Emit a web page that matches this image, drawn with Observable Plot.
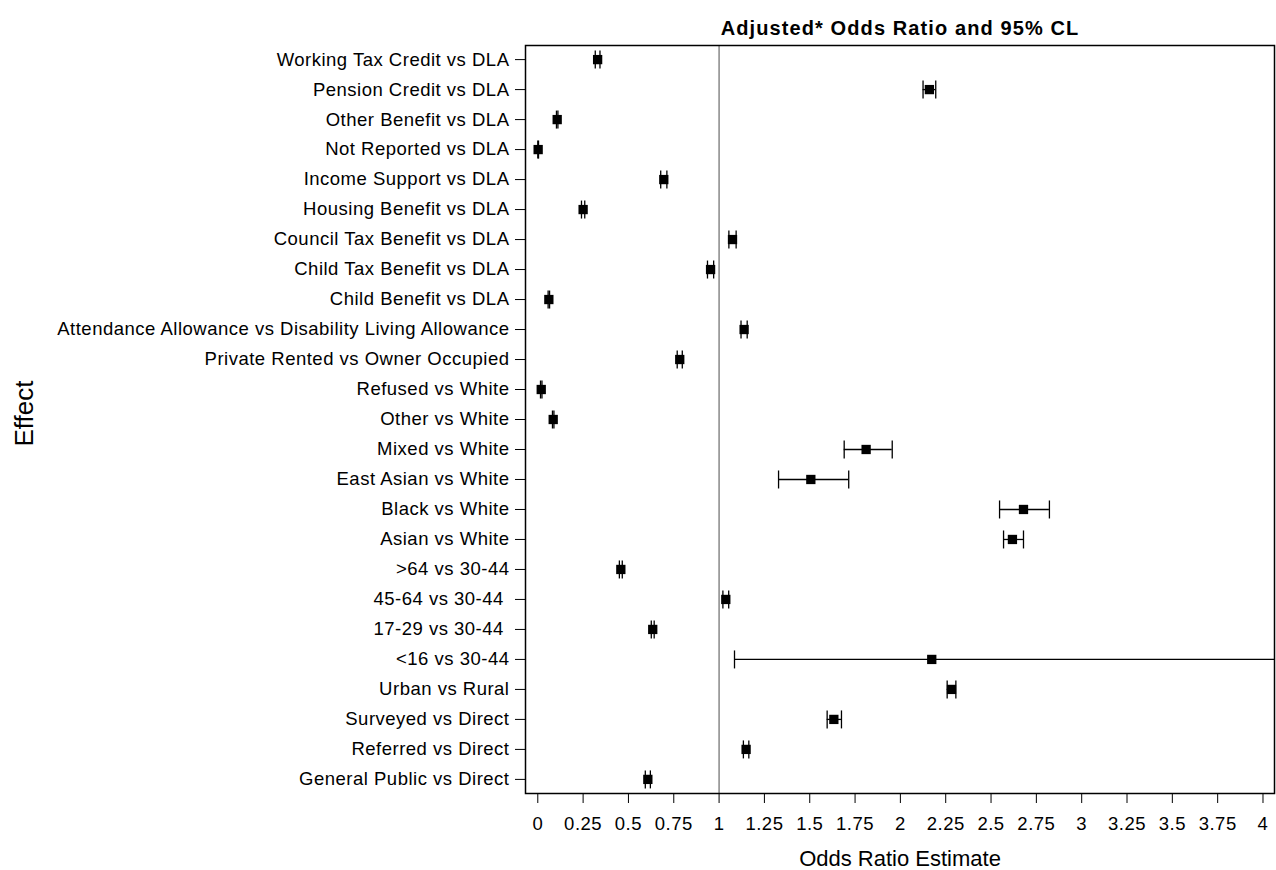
<!DOCTYPE html>
<html>
<head>
<meta charset="utf-8">
<script src="https://cdn.jsdelivr.net/npm/d3@7"></script>
<script src="https://cdn.jsdelivr.net/npm/@observablehq/plot@0.6"></script>
<style>
  html, body { margin: 0; padding: 0; background: #fff; }
  #chart svg { display: block; font-family: "Liberation Sans", Arial, sans-serif; }
  #chart svg g[aria-label="y-axis tick label"] text,
  #chart svg g[aria-label="x-axis tick label"] text { letter-spacing: 0.5px; }
</style>
</head>
<body>
<div id="chart"></div>
<script>
const effects = [
  "Working Tax Credit vs DLA",
  "Pension Credit vs DLA",
  "Other Benefit vs DLA",
  "Not Reported vs DLA",
  "Income Support vs DLA",
  "Housing Benefit vs DLA",
  "Council Tax Benefit vs DLA",
  "Child Tax Benefit vs DLA",
  "Child Benefit vs DLA",
  "Attendance Allowance vs Disability Living Allowance",
  "Private Rented vs Owner Occupied",
  "Refused vs White",
  "Other vs White",
  "Mixed vs White",
  "East Asian vs White",
  "Black vs White",
  "Asian vs White",
  ">64 vs 30-44",
  "45-64 vs 30-44 ",
  "17-29 vs 30-44 ",
  "<16 vs 30-44",
  "Urban vs Rural",
  "Surveyed vs Direct",
  "Referred vs Direct",
  "General Public vs Direct"
];
const estimates = [0.33, 2.16, 0.107, 0.002, 0.695, 0.25, 1.074, 0.953, 0.061, 1.138, 0.783, 0.019, 0.085, 1.811, 1.506, 2.679, 2.618, 0.458, 1.037, 0.634, 2.173, 2.282, 1.633, 1.149, 0.607];
const lowerCL   = [0.317, 2.125, 0.103, 0.0, 0.678, 0.241, 1.054, 0.936, 0.057, 1.121, 0.769, 0.015, 0.081, 1.69, 1.328, 2.547, 2.569, 0.45, 1.021, 0.626, 1.085, 2.258, 1.596, 1.134, 0.593];
const upperCL   = [0.343, 2.195, 0.111, 0.004, 0.712, 0.259, 1.094, 0.97, 0.065, 1.155, 0.797, 0.023, 0.089, 1.955, 1.715, 2.822, 2.679, 0.466, 1.053, 0.642, 5.5, 2.306, 1.675, 1.164, 0.621];
const xTicks = [0, 0.25, 0.5, 0.75, 1, 1.25, 1.5, 1.75, 2, 2.25, 2.5, 2.75, 3, 3.25, 3.5, 3.75, 4];
const referenceLine = [1];
const titleText = "Adjusted* Odds Ratio and 95% CL";
const xLabel = "Odds Ratio Estimate";
const yLabel = "Effect";

const data = effects.map((effect, i) => ({effect, est: estimates[i], lo: lowerCL[i], hi: upperCL[i]}));

const vbar = {
  draw(context, size) {
    const h = Math.sqrt(size / Math.PI);
    context.moveTo(0, -h);
    context.lineTo(0, h);
  }
};

const chart = Plot.plot({
  width: 1276,
  height: 870,
  marginTop: 45,
  marginBottom: 77,
  marginLeft: 525,
  marginRight: 2,
  style: {fontFamily: '"Liberation Sans", Arial, sans-serif', fontSize: "18.5px", color: "black", background: "white"},
  x: {domain: [-0.0678, 4.0635], ticks: xTicks, tickFormat: d => `${d}`, tickSize: 10, tickPadding: 13, label: null},
  y: {type: "point", domain: effects, padding: 0.47, round: false, tickSize: 10, tickPadding: 6, label: null},
  marks: [
    Plot.ruleX(referenceLine, {stroke: "#888", strokeWidth: 1.5}),
    Plot.ruleY(data, {y: "effect", x1: "lo", x2: "hi", stroke: "black", strokeWidth: 1.3, clip: true}),
    Plot.dot(data, {x: "lo", y: "effect", symbol: vbar, r: 9, stroke: "black", strokeWidth: 1.3, fill: "none", clip: true}),
    Plot.dot(data, {x: "hi", y: "effect", symbol: vbar, r: 9, stroke: "black", strokeWidth: 1.3, fill: "none", clip: true}),
    Plot.dot(data, {x: "est", y: "effect", symbol: "square", r: 5.25, fill: "black", stroke: "none"}),
    Plot.frame({stroke: "black", strokeWidth: 1.5}),
    Plot.text([titleText], {frameAnchor: "top", dy: -25, fontWeight: "bold", fontSize: 20, fill: "black"}),
    Plot.text([xLabel], {frameAnchor: "bottom", dy: 72, fontSize: 22, fill: "black"}),
    Plot.text([yLabel], {frameAnchor: "left", textAnchor: "middle", dx: -501, dy: -6, rotate: -90, fontSize: 26, fill: "black"})
  ]
});
d3.select(chart).selectAll("text")
  .filter(function() { return this.textContent === titleText; })
  .style("letter-spacing", "1.1px");
document.getElementById("chart").appendChild(chart);
</script>
</body>
</html>
